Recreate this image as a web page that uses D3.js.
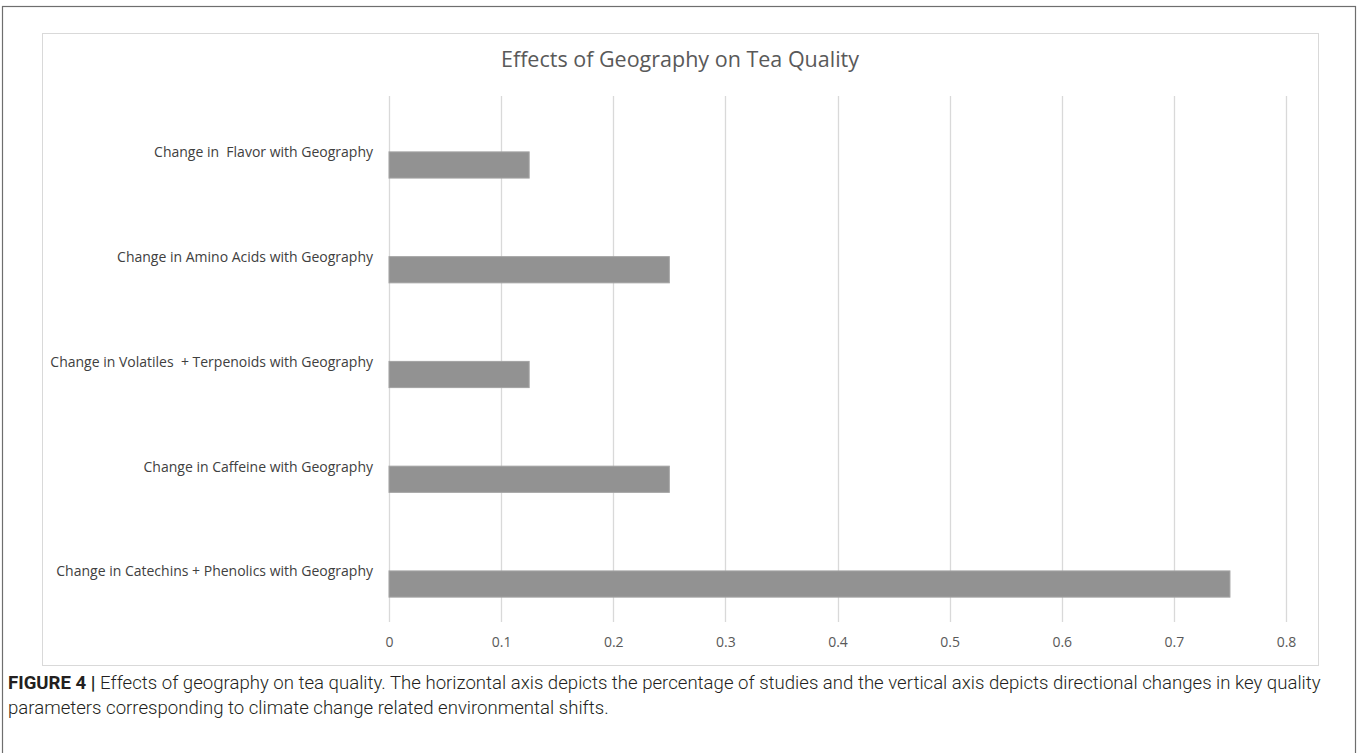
<!DOCTYPE html>
<html>
<head>
<meta charset="utf-8">
<script src="https://cdn.jsdelivr.net/npm/d3@7"></script>
<style>
  html, body { margin: 0; padding: 0; background: #fff; }
  svg { display: block; }
  text { white-space: pre; }
</style>
</head>
<body>
<script>
// Categories, listed top to bottom
const categories = [
  "Change in  Flavor with Geography",
  "Change in Amino Acids with Geography",
  "Change in Volatiles  + Terpenoids with Geography",
  "Change in Caffeine with Geography",
  "Change in Catechins + Phenolics with Geography"
];
// Share of studies for each category
const values = [0.125, 0.25, 0.125, 0.25, 0.75];
// Horizontal axis ticks
const xTicks = [0, 0.1, 0.2, 0.3, 0.4, 0.5, 0.6, 0.7, 0.8];

const chartTitle = "Effects of Geography on Tea Quality";
const captionBold = "FIGURE 4 |";
const captionLines = [
  " Effects of geography on tea quality. The horizontal axis depicts the percentage of studies and the vertical axis depicts directional changes in key quality",
  "parameters corresponding to climate change related environmental shifts."
];

const W = 1360, H = 753;
const svg = d3.select("body").append("svg").attr("width", W).attr("height", H);

// Outer figure frame
svg.append("rect")
  .attr("x", 2.5).attr("y", 6.5)
  .attr("width", 1353).attr("height", 760)
  .attr("fill", "none").attr("stroke", "#6e6e6e").attr("stroke-width", 1.2);

// Chart area frame
svg.append("rect")
  .attr("x", 42.5).attr("y", 33.5)
  .attr("width", 1276).attr("height", 632)
  .attr("fill", "#fff").attr("stroke", "#d9d9d9").attr("stroke-width", 1);

const plot = { left: 389, right: 1286, top: 96, bottom: 622 };

const x = d3.scaleLinear().domain([0, 0.8]).range([plot.left, plot.right]);
// Category bands sit a little below the gridline span
const y = d3.scaleBand().domain(categories).range([112.6, 636.4])
  .paddingInner(0.75).paddingOuter(0.375);

// Title
svg.append("text")
  .attr("x", 680).attr("y", 67)
  .attr("text-anchor", "middle")
  .attr("font-family", "Open Sans, sans-serif")
  .attr("font-size", 21.5)
  .attr("fill", "#595959")
  .text(chartTitle);

// Vertical gridlines
svg.append("g").selectAll("line").data(xTicks).join("line")
  .attr("x1", d => Math.round(x(d)) + 0.5).attr("x2", d => Math.round(x(d)) + 0.5)
  .attr("y1", plot.top).attr("y2", plot.bottom)
  .attr("stroke", "#d9d9d9").attr("stroke-width", 1.3);

// Bars
svg.append("g").selectAll("rect").data(values).join("rect")
  .attr("x", x(0)).attr("y", (d, i) => y(categories[i]))
  .attr("width", d => x(d) - x(0)).attr("height", y.bandwidth())
  .attr("fill", "#929292").attr("stroke", "#a3a3a3").attr("stroke-width", 1);

// Category labels
const yAxis = d3.axisLeft(y).tickSize(0).tickPadding(0);
const gy = svg.append("g").attr("transform", `translate(${plot.left - 16},0)`).call(yAxis);
gy.select(".domain").remove();
gy.selectAll("text")
  .attr("font-family", "Open Sans, sans-serif")
  .attr("font-size", 14)
  .attr("fill", "#404040")
  .attr("dy", "-0.55em");

// Tick labels along the bottom
const xAxis = d3.axisBottom(x).tickValues(xTicks).tickSize(0).tickPadding(0)
  .tickFormat(d => d === 0 ? "0" : d3.format(".1f")(d));
const gx = svg.append("g").attr("transform", `translate(0,${plot.bottom + 15})`).call(xAxis);
gx.select(".domain").remove();
gx.selectAll("text")
  .attr("font-family", "Open Sans, sans-serif")
  .attr("font-size", 14)
  .attr("fill", "#595959")
  .attr("dy", "0.71em");

// Figure caption
const cap1 = svg.append("text").attr("x", 8).attr("y", 689)
  .attr("font-family", "Roboto, sans-serif").attr("font-size", 18.6).attr("fill", "#231f20");
cap1.append("tspan").attr("font-weight", 700).text(captionBold);
cap1.append("tspan").attr("font-weight", 300).text(captionLines[0]);
svg.append("text").attr("x", 8).attr("y", 714)
  .attr("font-family", "Roboto, sans-serif").attr("font-size", 18.6)
  .attr("font-weight", 300).attr("fill", "#231f20")
  .text(captionLines[1]);
</script>
</body>
</html>
